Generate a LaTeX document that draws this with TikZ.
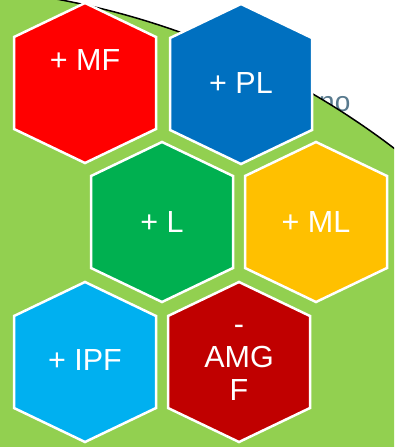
\documentclass[tikz,border=0pt]{standalone}
\usepackage{fontspec}
\setmainfont{Liberation Sans}
\definecolor{bggreen}{HTML}{92D050}
\definecolor{hred}{HTML}{FF0000}
\definecolor{hblue}{HTML}{0070C0}
\definecolor{hgreen}{HTML}{00B050}
\definecolor{hyellow}{HTML}{FFC000}
\definecolor{hcyan}{HTML}{00B0F0}
\definecolor{hdred}{HTML}{C00000}
\definecolor{slate}{HTML}{587A8E}
\newcommand\hexcell[3]{%
  \filldraw[hexa, fill=#3] (#1,#2-80) -- (#1+71,#2-46) -- (#1+71,#2+46) -- (#1,#2+80) -- (#1-71,#2+46) -- (#1-71,#2-46) -- cycle;}
\begin{document}
\begin{tikzpicture}[x=1pt,y=-1pt,
  hexa/.style={draw=white, line width=2.5pt, line join=miter},
  lbl/.style={text=white, font=\fontsize{30.5}{33}\selectfont, align=center, inner sep=0pt}]
\useasboundingbox (0,0) rectangle (394,447);
\fill[white] (0,0) rectangle (394,447);
\node[text=slate, font=\fontsize{28}{28}\selectfont, anchor=base west, inner sep=0pt] (bgtxt) at (319,111.5) {no};
\begin{scope}
\clip (0,0) rectangle (394,447);
\filldraw[fill=bggreen, draw=black, line width=1.5pt] (-88,783) circle (797);
\end{scope}
\hexcell{85}{83}{hred}
\hexcell{241}{84}{hblue}
\hexcell{162}{222}{hgreen}
\hexcell{316}{222}{hyellow}
\hexcell{85}{362}{hcyan}
\hexcell{239}{362}{hdred}
\node[lbl] (mf) at (85,60) {+ MF};
\node[lbl] (pl) at (241,83) {+ PL};
\node[lbl] (l) at (162,222) {+ L};
\node[lbl] (ml) at (316,222) {+ ML};
\node[lbl] (ipf) at (85,360) {+ IPF};
\node[lbl] (amgf) at (239,363) {-\\AMG\\F};
\end{tikzpicture}
\end{document}
